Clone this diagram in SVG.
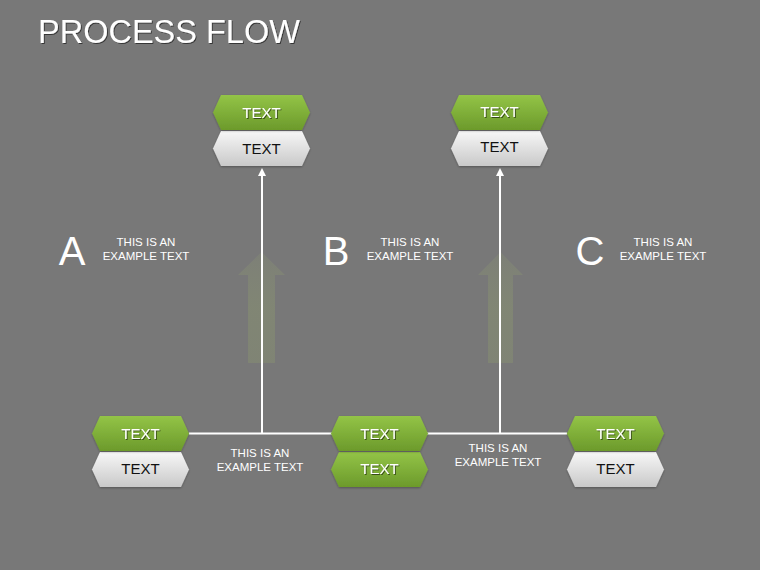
<svg xmlns="http://www.w3.org/2000/svg" width="760" height="570" viewBox="0 0 760 570">
  <defs>
    <linearGradient id="gGreen" x1="0" y1="0" x2="0" y2="1">
      <stop offset="0" stop-color="#93c447"/>
      <stop offset="1" stop-color="#6c9a2b"/>
    </linearGradient>
    <linearGradient id="gWhite" x1="0" y1="0" x2="0" y2="1">
      <stop offset="0" stop-color="#f7f7f7"/>
      <stop offset="1" stop-color="#c9c9c9"/>
    </linearGradient>
    <linearGradient id="gFade" x1="0" y1="0" x2="0" y2="1">
      <stop offset="0" stop-color="#a3b86f" stop-opacity="0.12"/>
      <stop offset="0.5" stop-color="#9aae68" stop-opacity="0.25"/>
      <stop offset="1" stop-color="#9aae68" stop-opacity="0.22"/>
    </linearGradient>
    <path id="hex" d="M0,17.5 L8,0 L89,0 L97,17.5 L89,35 L8,35 Z"/>
    <filter id="shadow" x="-10%" y="-20%" width="130%" height="150%">
      <feDropShadow dx="1" dy="1" stdDeviation="0.6" flood-color="#000" flood-opacity="0.55"/>
    </filter>
    <filter id="boxShadow" x="-10%" y="-20%" width="130%" height="150%">
      <feDropShadow dx="0" dy="1" stdDeviation="1" flood-color="#000" flood-opacity="0.3"/>
    </filter>
    <marker id="arrow" markerWidth="8" markerHeight="8" refX="4" refY="4" orient="auto" markerUnits="userSpaceOnUse">
      <path d="M0,0 L8,4 L0,8 Z" fill="#ffffff"/>
    </marker>
  </defs>
  <style>
    .title { font-family: "Liberation Sans", Arial, sans-serif; font-size: 32.5px; fill: #ffffff; }
    .letter { font-family: "Liberation Sans", Arial, sans-serif; font-size: 40px; fill: #ffffff; text-anchor: middle; }
    .desc { font-family: "Liberation Sans", Arial, sans-serif; font-size: 11.5px; fill: #ffffff; text-anchor: middle; }
    .gt { font-family: "Liberation Sans", Arial, sans-serif; font-size: 15px; fill: #ffffff; text-anchor: middle; }
    .wt { font-family: "Liberation Sans", Arial, sans-serif; font-size: 15px; fill: #111111; text-anchor: middle; }
    .green { fill: url(#gGreen); }
    .white { fill: url(#gWhite); }
    .conn { stroke: #ffffff; stroke-width: 2; fill: none; }
  </style>

  <rect x="0" y="0" width="760" height="570" fill="#787878"/>

  <text class="title" x="38" y="43" filter="url(#shadow)">PROCESS FLOW</text>

  <!-- faded background arrows -->
  <g id="bg-arrows">
    <path d="M261.5,252 L285,275 L275,275 L275,363 L248,363 L248,275 L238,275 Z" fill="url(#gFade)"/>
    <path d="M500.5,252 L523,275 L513,275 L513,363 L488,363 L488,275 L478,275 Z" fill="url(#gFade)"/>
  </g>

  <!-- section labels -->
  <g id="label-a">
    <text class="letter" x="72" y="265">A</text>
    <text class="desc" x="146" y="246">THIS IS AN</text>
    <text class="desc" x="146" y="260">EXAMPLE TEXT</text>
  </g>
  <g id="label-b">
    <text class="letter" x="336" y="265">B</text>
    <text class="desc" x="410" y="246">THIS IS AN</text>
    <text class="desc" x="410" y="260">EXAMPLE TEXT</text>
  </g>
  <g id="label-c">
    <text class="letter" x="590" y="265">C</text>
    <text class="desc" x="663" y="246">THIS IS AN</text>
    <text class="desc" x="663" y="260">EXAMPLE TEXT</text>
  </g>

  <!-- connectors -->
  <g id="connectors">
    <line class="conn" x1="189" y1="433.5" x2="567" y2="433.5"/>
    <line class="conn" x1="262" y1="433.5" x2="262" y2="172" marker-end="url(#arrow)"/>
    <line class="conn" x1="500" y1="433.5" x2="500" y2="172" marker-end="url(#arrow)"/>
    <text class="desc" x="260" y="457">THIS IS AN</text>
    <text class="desc" x="260" y="471">EXAMPLE TEXT</text>
    <text class="desc" x="498" y="452">THIS IS AN</text>
    <text class="desc" x="498" y="466">EXAMPLE TEXT</text>
  </g>

  <!-- nodes -->
  <g id="node-top-left">
    <use href="#hex" x="213" y="131" class="white" filter="url(#boxShadow)"/>
    <use href="#hex" x="213" y="95" class="green" filter="url(#boxShadow)"/>
    <text class="gt" x="261.5" y="118" filter="url(#shadow)">TEXT</text>
    <text class="wt" x="261.5" y="154">TEXT</text>
  </g>
  <g id="node-top-right">
    <use href="#hex" x="451" y="131" class="white" filter="url(#boxShadow)"/>
    <use href="#hex" x="451" y="95" class="green" filter="url(#boxShadow)"/>
    <text class="gt" x="499.5" y="117" filter="url(#shadow)">TEXT</text>
    <text class="wt" x="499.5" y="152">TEXT</text>
  </g>
  <g id="node-bottom-left">
    <use href="#hex" x="92" y="452" class="white" filter="url(#boxShadow)"/>
    <use href="#hex" x="92" y="416" class="green" filter="url(#boxShadow)"/>
    <text class="gt" x="140.5" y="439" filter="url(#shadow)">TEXT</text>
    <text class="wt" x="140.5" y="474">TEXT</text>
  </g>
  <g id="node-bottom-mid">
    <use href="#hex" x="331" y="452" class="green" filter="url(#boxShadow)"/>
    <use href="#hex" x="331" y="416" class="green" filter="url(#boxShadow)"/>
    <text class="gt" x="379.5" y="439" filter="url(#shadow)">TEXT</text>
    <text class="gt" x="379.5" y="474" filter="url(#shadow)">TEXT</text>
  </g>
  <g id="node-bottom-right">
    <use href="#hex" x="567" y="452" class="white" filter="url(#boxShadow)"/>
    <use href="#hex" x="567" y="416" class="green" filter="url(#boxShadow)"/>
    <text class="gt" x="615.5" y="439" filter="url(#shadow)">TEXT</text>
    <text class="wt" x="615.5" y="474">TEXT</text>
  </g>
</svg>
